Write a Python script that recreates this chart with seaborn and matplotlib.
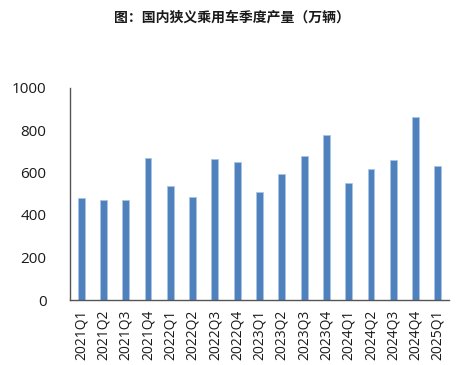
import matplotlib
matplotlib.use("Agg")
import matplotlib.pyplot as plt
import seaborn as sns
import pandas as pd
import numpy as np

quarters = ["2021Q1", "2021Q2", "2021Q3", "2021Q4", "2022Q1", "2022Q2", "2022Q3", "2022Q4",
            "2023Q1", "2023Q2", "2023Q3", "2023Q4", "2024Q1", "2024Q2", "2024Q3", "2024Q4", "2025Q1"]
production = [481, 472, 472, 667, 536, 486, 663, 651,
              508, 591, 676, 778, 549, 615, 657, 861, 629]
yticks = [0, 200, 400, 600, 800, 1000]
title = "图：国内狭义乘用车季度产量（万辆）"

sns.set_theme(style="white")
plt.rcParams["font.family"] = ["Open Sans", "Noto Sans CJK SC", "DejaVu Sans"]

df = pd.DataFrame({"quarter": quarters, "production": production})

fig = plt.figure(figsize=(4.68, 3.65), dpi=100)
ax = fig.add_axes([70 / 468, 1 - 300 / 365, (449 - 70) / 468, (300 - 87.5) / 365])
sns.barplot(data=df, x="quarter", y="production", color="#4F81BD", width=0.31,
            saturation=1, ax=ax, edgecolor="#A9C4E6", linewidth=0.6)

ax.set_xlim(-0.5, len(quarters) - 0.5)
ax.set_ylim(0, 1000)
ax.set_yticks(yticks)
ax.set_yticklabels([str(v) for v in yticks], fontsize=11, color="#1a1a1a")
ax.set_xticks(range(len(quarters)))
ax.set_xticklabels(quarters, rotation=90, fontsize=10, color="#1a1a1a")
ax.tick_params(axis="x", which="major", length=0, pad=7)
ax.set_xticks(np.arange(len(quarters) + 1) - 0.5, minor=True)
ax.tick_params(axis="x", which="minor", direction="in", length=4, width=1, color="#222222")
ax.tick_params(axis="y", which="major", direction="in", length=4, width=1, color="#222222", pad=17)
ax.set_xlabel("")
ax.set_ylabel("")
for s in ["top", "right"]:
    ax.spines[s].set_visible(False)
for s in ["left", "bottom"]:
    ax.spines[s].set_color("#555555")
    ax.spines[s].set_linewidth(1)

fig.text(232 / 468, 1 - 18 / 365, title, ha="center", va="center", fontsize=10,
         fontweight="bold", family=["Noto Sans CJK SC", "DejaVu Sans"], color="#1a1a1a")

fig.savefig("out.png", dpi=100)
